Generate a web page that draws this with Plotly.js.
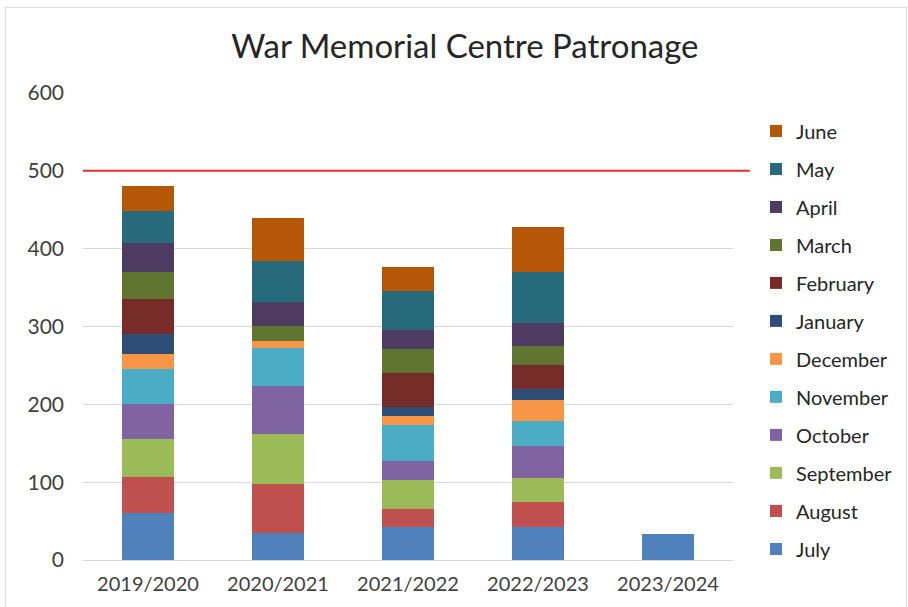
<!DOCTYPE html>
<html>
<head>
<meta charset="utf-8">
<script src="https://cdn.plot.ly/plotly-3.0.1.min.js"></script>
<style>
  html, body { margin: 0; padding: 0; background: #ffffff; }
  #wrap { position: relative; width: 908px; height: 607px; }
  #chart { position: absolute; left: 0; top: 0; width: 908px; height: 607px; }
  #frame { position: absolute; left: 5px; top: 7px; width: 902px; height: 610px; border: 1px solid #dcdcdc; box-sizing: border-box; pointer-events: none; }
</style>
</head>
<body>
<div id="wrap">
  <div id="chart"></div>
  <div id="frame"></div>
</div>
<script>
// Categories (financial years)
const years = ["2019/2020", "2020/2021", "2021/2022", "2022/2023", "2023/2024"];

// Monthly patronage values per year
const july      = [61, 35, 42, 42, 33];
const august    = [46, 63, 24, 33, 0];
const september = [49, 64, 37, 31, 0];
const october   = [45, 61, 24, 40, 0];
const november  = [45, 49, 46, 33, 0];
const december  = [19, 10, 12, 27, 0];
const january   = [26, 0, 12, 14, 0];
const february  = [44, 0, 43, 30, 0];
const march     = [35, 19, 31, 25, 0];
const april     = [37, 31, 24, 29, 0];
const may       = [42, 52, 50, 66, 0];
const june      = [32, 55, 31, 58, 0];

const target = 500;

const seriesNames = ["July", "August", "September", "October", "November", "December",
                     "January", "February", "March", "April", "May", "June"];
const seriesValues = [july, august, september, october, november, december,
                      january, february, march, april, may, june];
const seriesColors = ["#4F81BD", "#C0504D", "#9BBB59", "#8064A2", "#4BACC6", "#F79646",
                      "#2C4D75", "#772C2A", "#5F7530", "#4D3B62", "#276A7C", "#B65708"];

const traces = seriesNames.map((name, i) => ({
  type: "bar",
  name: name,
  x: years,
  y: seriesValues[i],
  marker: { color: seriesColors[i], line: { width: 0 } },
  legendgroup: name,
  legendrank: seriesNames.length - i,
  hoverinfo: "x+y+name"
}));

const font = "Lato, 'Open Sans', sans-serif";

const layout = {
  width: 908,
  height: 607,
  paper_bgcolor: "rgba(0,0,0,0)",
  plot_bgcolor: "#ffffff",
  barmode: "stack",
  bargap: 0.6,
  margin: { l: 83, r: 175, t: 93, b: 47, autoexpand: false },
  title: {
    text: "War Memorial Centre Patronage",
    font: { family: font, size: 33, color: "#262626" },
    x: 0.512, xanchor: "center",
    y: 0.923, yanchor: "middle", yref: "container"
  },
  font: { family: font, size: 16, color: "#404040" },
  xaxis: {
    type: "category",
    showgrid: false,
    showline: true,
    linecolor: "#d9d9d9",
    linewidth: 1,
    ticks: "",
    tickfont: { family: font, size: 20, color: "#404040" },
    ticklabelstandoff: 6
  },
  yaxis: {
    range: [0, 600],
    dtick: 100,
    showgrid: true,
    gridcolor: "#d9d9d9",
    gridwidth: 1,
    zeroline: false,
    showline: false,
    ticks: "",
    tickfont: { family: font, size: 21, color: "#404040" },
    ticklabelstandoff: 18
  },
  legend: {
    traceorder: "grouped",
    tracegroupgap: 9,
    xref: "container", yref: "container",
    x: 0.8326, xanchor: "left",
    y: 0.8165, yanchor: "top",
    font: { family: font, size: 20, color: "#262626" },
    bgcolor: "rgba(0,0,0,0)",
    itemwidth: 30,
    maxheight: 560
  },
  shapes: [{
    type: "line",
    xref: "paper", yref: "y",
    x0: 0, x1: 1.026,
    y0: target, y1: target,
    line: { color: "#E0302A", width: 2 }
  }],
  showlegend: true
};

Plotly.newPlot("chart", traces, layout, { displayModeBar: false, responsive: false });
</script>
</body>
</html>
